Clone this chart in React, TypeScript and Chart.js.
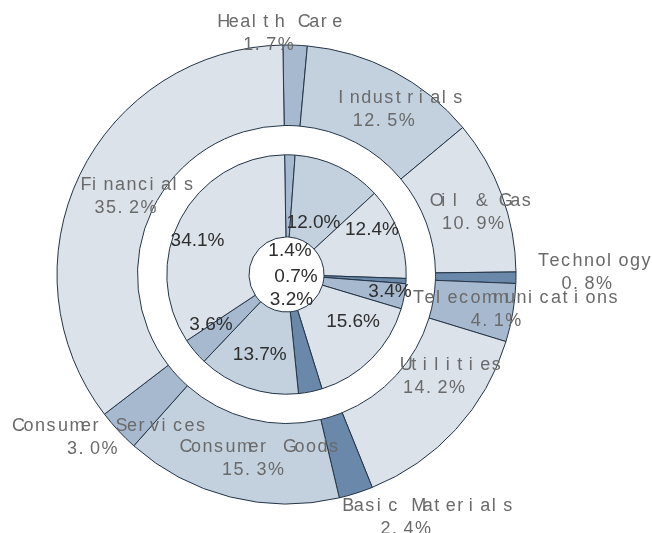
import React, { useEffect, useRef } from "react";
import { Chart, registerables } from "chart.js";

Chart.register(...registerables);

// ---- data ----
const categories = [
  "Health Care",
  "Industrials",
  "Oil & Gas",
  "Technology",
  "Telecommunications",
  "Utilities",
  "Basic Materials",
  "Consumer Goods",
  "Consumer Services",
  "Financials",
];
const outerValues = [1.7, 12.5, 10.9, 0.8, 4.1, 14.2, 2.4, 15.3, 3.0, 35.2];
const innerValues = [1.4, 12.0, 12.4, 0.7, 3.4, 15.6, 3.2, 13.7, 3.6, 34.1];

// ---- styles ----
const LIGHT = "#dbe2ea";
const MID = "#c3d1df";
const MIDDARK = "#a7b9cf";
const DARK = "#6a88aa";
const sliceColors = [MIDDARK, MID, LIGHT, DARK, MIDDARK, LIGHT, DARK, MID, MIDDARK, LIGHT];

// label placement (radius as fraction of the ring's outer radius, angular shift in degrees)
const outerLabelRadius = [1.057, 0.818, 0.828, 1.283, 0.9, 0.758, 1.168, 0.821, 1.124, 0.806];
const outerLabelShift = [-7.8, 1.1, 1.1, -1.1, 0.2, -6.5, -7.4, -1.8, 3.8, -0.9];
const innerLabelRadius = [0.199, 0.485, 0.805, 0.081, 0.877, 0.683, 0.213, 0.708, 0.759, 0.794];
const innerLabelShift = [6.9, 2.0, -7.1, 8.9, -0.9, -9.2, 0.2, -0.5, 6.2, -7.2];

const OUTER_R = 229.5;
const HOLE_R = 37.5;
const OUTER_RING = 80.5;
const GAP_RING = 29.3;
const INNER_RING = 82.2;

const CHAR_ADV = 11.5;
const LINE_GAP = 23;

function drawSpaced(ctx: CanvasRenderingContext2D, text: string, cx: number, cy: number) {
  ctx.font = '17px "Liberation Sans", Arial, sans-serif';
  const w = ctx.measureText(text).width;
  const x0 = cx - w / 2;
  ctx.font = '18px "Liberation Sans", Arial, sans-serif';
  for (let k = 0; k < text.length; k++) {
    ctx.fillText(text[k], x0 + k * CHAR_ADV, cy);
  }
}

const labelPlugin = {
  id: "ringLabels",
  afterDraw(chart: any) {
    const ctx: CanvasRenderingContext2D = chart.ctx;
    ctx.save();
    const innerMeta = chart.getDatasetMeta(2);
    ctx.textAlign = "center";
    ctx.textBaseline = "middle";
    ctx.fillStyle = "#2e2e2e";
    ctx.font = '19px "Liberation Sans", Arial, sans-serif';
    innerMeta.data.forEach((arc: any, i: number) => {
      const p = arc.getProps(["x", "y", "startAngle", "endAngle", "outerRadius"], true);
      const a = (p.startAngle + p.endAngle) / 2 + (innerLabelShift[i] * Math.PI) / 180;
      const r = p.outerRadius * innerLabelRadius[i];
      ctx.fillText(innerValues[i].toFixed(1) + "%", p.x + r * Math.cos(a), p.y + r * Math.sin(a));
    });

    const outerMeta = chart.getDatasetMeta(0);
    ctx.textAlign = "left";
    ctx.fillStyle = "#6a6a6a";
    outerMeta.data.forEach((arc: any, i: number) => {
      const p = arc.getProps(["x", "y", "startAngle", "endAngle", "outerRadius"], true);
      const a = (p.startAngle + p.endAngle) / 2 + (outerLabelShift[i] * Math.PI) / 180;
      const r = p.outerRadius * outerLabelRadius[i];
      const cx = p.x + r * Math.cos(a);
      const cy = p.y + r * Math.sin(a);
      drawSpaced(ctx, categories[i], cx, cy - LINE_GAP / 2);
      drawSpaced(ctx, outerValues[i].toFixed(1) + "%", cx, cy + LINE_GAP / 2);
    });
    ctx.restore();
  },
};

export default function App() {
  const ref = useRef<HTMLCanvasElement | null>(null);
  useEffect(() => {
    if (!ref.current) return;
    const chart = new Chart(ref.current, {
      type: "doughnut",
      data: {
        labels: categories,
        datasets: [
          {
            data: outerValues,
            backgroundColor: sliceColors,
            borderColor: "#243446",
            borderWidth: 1,
            weight: OUTER_RING,
          } as any,
          {
            data: [1],
            backgroundColor: "rgba(0,0,0,0)",
            borderWidth: 0,
            weight: GAP_RING,
          } as any,
          {
            data: innerValues,
            backgroundColor: sliceColors,
            borderColor: "#243446",
            borderWidth: 1,
            weight: INNER_RING,
          } as any,
        ],
      },
      options: {
        responsive: false,
        maintainAspectRatio: false,
        animation: false,
        devicePixelRatio: 1,
        rotation: -0.9,
        radius: OUTER_R,
        cutout: (HOLE_R / OUTER_R) * 100 + "%",
        layout: { padding: { left: 0, right: 79, top: 16, bottom: 0 } },
        plugins: {
          legend: { display: false },
          tooltip: { enabled: false },
        },
      } as any,
      plugins: [labelPlugin],
    });
    return () => chart.destroy();
  }, []);
  return (
    <div style={{ position: "fixed", left: 0, top: 0, width: 652, height: 533, background: "#fff" }}>
      <canvas ref={ref} width={652} height={533} style={{ display: "block" }} />
    </div>
  );
}
